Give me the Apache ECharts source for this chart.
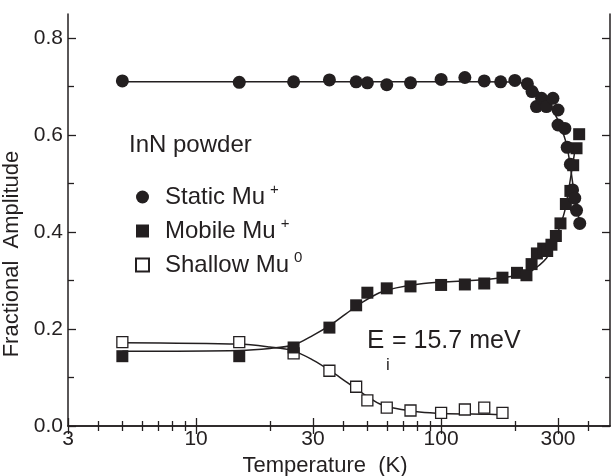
<!DOCTYPE html>
<html>
<head>
<meta charset="utf-8">
<script src="https://cdn.jsdelivr.net/npm/echarts@6/dist/echarts.min.js"></script>
<style>
  html, body { margin: 0; padding: 0; background: #fff; }
  #chart { width: 611px; height: 476px; }
</style>
</head>
<body>
<div id="chart"></div>
<script>
// Temperature (K) and fractional amplitudes
const staticT = [5, 15, 25, 35, 45, 50, 60, 75, 100, 125, 150, 175, 200, 225, 235, 245, 257, 269, 286, 300, 300, 320, 327, 337, 344, 351, 357, 368];
const staticAmp = [0.712, 0.709, 0.710, 0.714, 0.710, 0.708, 0.704, 0.708, 0.715, 0.719, 0.712, 0.710, 0.713, 0.706, 0.690, 0.659, 0.676, 0.659, 0.676, 0.652, 0.621, 0.614, 0.575, 0.540, 0.487, 0.470, 0.445, 0.418];

const mobileT = [5, 15, 25, 35, 45, 50, 60, 75, 100, 125, 150, 178, 204, 223, 234, 246, 261, 271, 282, 294, 307, 323, 337, 346, 357, 366];
const mobileAmp = [0.144, 0.144, 0.162, 0.203, 0.249, 0.275, 0.284, 0.288, 0.291, 0.292, 0.294, 0.306, 0.316, 0.311, 0.334, 0.356, 0.366, 0.361, 0.374, 0.392, 0.418, 0.458, 0.485, 0.538, 0.573, 0.602];

const shallowT = [5, 15, 25, 35, 45, 50, 60, 75, 100, 125, 150, 178];
const shallowAmp = [0.173, 0.173, 0.150, 0.114, 0.081, 0.053, 0.038, 0.032, 0.027, 0.034, 0.038, 0.027];

// fit curves, points
const staticFitT = [5, 50, 100, 150, 200, 226, 245, 262, 282, 300, 315, 327, 337, 346, 356, 368];
const staticFitAmp = [0.710, 0.710, 0.710, 0.710, 0.709, 0.705, 0.693, 0.676, 0.655, 0.631, 0.604, 0.575, 0.535, 0.494, 0.455, 0.420];

const mobileFitT = [5, 15, 20, 25, 30, 35.3, 41, 48, 56, 65.6, 81.6, 102, 143, 196, 230, 252, 269, 282, 305, 320, 340, 352];
const mobileFitAmp = [0.154, 0.156, 0.160, 0.167, 0.187, 0.208, 0.232, 0.256, 0.275, 0.285, 0.293, 0.297, 0.301, 0.309, 0.318, 0.332, 0.346, 0.363, 0.411, 0.445, 0.521, 0.570];

const shallowFitT = [5, 15, 20, 24.7, 30, 35.3, 41, 48, 56, 65.6, 81.6, 102, 158, 178];
const shallowFitAmp = [0.172, 0.169, 0.163, 0.156, 0.136, 0.114, 0.091, 0.067, 0.046, 0.036, 0.029, 0.026, 0.024, 0.023];

// axis ticks
const xMajorTicks = [3, 10, 30, 100, 300];
const xMinorTicks = [4, 5, 6, 7, 8, 9, 20, 40, 50, 60, 70, 80, 90, 200, 400];
const yMajorTicks = [0, 0.2, 0.4, 0.6, 0.8];
const yMinorTicks = [0.1, 0.3, 0.5, 0.7];

const ink = "#231f20";
const font = "'Liberation Sans', Arial, Helvetica, sans-serif";

function pairs(xs, ys) {
    return xs.map((x, i) => [x, ys[i]]);
}

function xAxisDef(pos, ticks, len, withLine, withLabel) {
    return {
        type: "log",
        logBase: 10,
        min: 3,
        max: 489,
        position: pos,
        axisLine: { show: withLine, lineStyle: { color: ink, width: 1.5 } },
        axisTick: { show: true, inside: true, length: len, customValues: ticks, lineStyle: { color: ink, width: 1.3 } },
        axisLabel: withLabel
            ? { customValues: ticks, color: ink, fontSize: 21, fontFamily: font, margin: 3, formatter: (v) => String(Math.round(v)) }
            : { show: false },
        splitLine: { show: false },
        minorTick: { show: false },
    };
}

function yAxisDef(pos, ticks, len, withLine, withLabel) {
    return {
        type: "value",
        min: 0,
        max: 0.85,
        position: pos,
        axisLine: { show: withLine, lineStyle: { color: ink, width: 1.5 } },
        axisTick: { show: true, inside: true, length: len, customValues: ticks, lineStyle: { color: ink, width: 1.3 } },
        axisLabel: withLabel
            ? { customValues: ticks, color: ink, fontSize: 21, fontFamily: font, margin: 5, formatter: (v) => v.toFixed(1) }
            : { show: false },
        splitLine: { show: false },
    };
}

const xBottom = xAxisDef("bottom", xMajorTicks, 8, true, true);
xBottom.name = "Temperature  (K)";
xBottom.nameLocation = "middle";
xBottom.nameGap = 28;
xBottom.nameTextStyle = { color: ink, fontSize: 22, fontFamily: font, padding: [0, 28, 0, 0] };

const yLeft = yAxisDef("left", yMajorTicks, 8, true, true);
yLeft.name = "Fractional  Amplitude";
yLeft.nameLocation = "middle";
yLeft.nameGap = 40;
yLeft.nameTextStyle = { color: ink, fontSize: 22, fontFamily: font, padding: [0, 68, 0, 0] };

function fitSeries(xs, ys) {
    return {
        type: "line",
        data: pairs(xs, ys),
        smooth: 0.3,
        showSymbol: false,
        silent: true,
        lineStyle: { color: ink, width: 1.5 },
        z: 1,
    };
}

const legendRich = {
    n: { fontSize: 24, fontFamily: font, color: ink, lineHeight: 30, padding: [0, 0, 0, 11] },
    s: { fontSize: 15, fontFamily: font, color: ink, lineHeight: 14, verticalAlign: "top", padding: [0, 0, 0, 5] },
};

const chart = echarts.init(document.getElementById("chart"), null, { renderer: "canvas" });

chart.setOption({
    animation: false,
    backgroundColor: "#fff",
    grid: { left: 68, right: 1, top: 14, bottom: 50, containLabel: false, outerBoundsMode: "none" },
    xAxis: [
        xBottom,
        xAxisDef("bottom", xMinorTicks, 5, false, false),
        xAxisDef("top", xMajorTicks, 8, true, false),
        xAxisDef("top", xMinorTicks, 5, false, false),
    ],
    yAxis: [
        yLeft,
        yAxisDef("left", yMinorTicks, 6, false, false),
        yAxisDef("right", yMajorTicks, 8, true, false),
        yAxisDef("right", yMinorTicks, 5, false, false),
    ],
    legend: {
        orient: "vertical",
        left: 130,
        top: 177,
        itemWidth: 13,
        itemHeight: 13,
        itemGap: 7,
        data: ["Static", "Mobile", "Shallow"],
        formatter: (name) => {
            if (name === "Static") return "{n|Static Mu}{s|+}";
            if (name === "Mobile") return "{n|Mobile Mu}{s|+}";
            return "{n|Shallow Mu}{s|0}";
        },
        textStyle: { rich: legendRich },
    },
    graphic: [
        {
            type: "text",
            left: 129,
            top: 133,
            style: { text: "InN powder", fill: ink, fontSize: 24, fontFamily: font },
        },
        {
            type: "text",
            left: 367,
            top: 328,
            style: { text: "E", fill: ink, fontSize: 26, fontFamily: font },
        },
        {
            type: "text",
            left: 386,
            top: 357,
            style: { text: "i", fill: ink, fontSize: 17, fontFamily: font },
        },
        {
            type: "text",
            left: 392,
            top: 329,
            style: { text: "= 15.7 meV", fill: ink, fontSize: 25, fontFamily: font },
        },
    ],
    series: [
        fitSeries(staticFitT, staticFitAmp),
        fitSeries(mobileFitT, mobileFitAmp),
        fitSeries(shallowFitT, shallowFitAmp),
        {
            name: "Shallow",
            type: "scatter",
            data: pairs(shallowT, shallowAmp),
            symbol: "rect",
            symbolSize: 11,
            itemStyle: { color: "#fff", borderColor: ink, borderWidth: 1.3, opacity: 1 },
            z: 2,
        },
        {
            name: "Mobile",
            type: "scatter",
            data: pairs(mobileT, mobileAmp),
            symbol: "rect",
            symbolSize: 12,
            itemStyle: { color: ink, opacity: 1 },
            z: 3,
        },
        {
            name: "Static",
            type: "scatter",
            data: pairs(staticT, staticAmp),
            symbol: "circle",
            symbolSize: 13,
            itemStyle: { color: ink, opacity: 1 },
            z: 4,
        },
    ],
});
</script>
</body>
</html>
